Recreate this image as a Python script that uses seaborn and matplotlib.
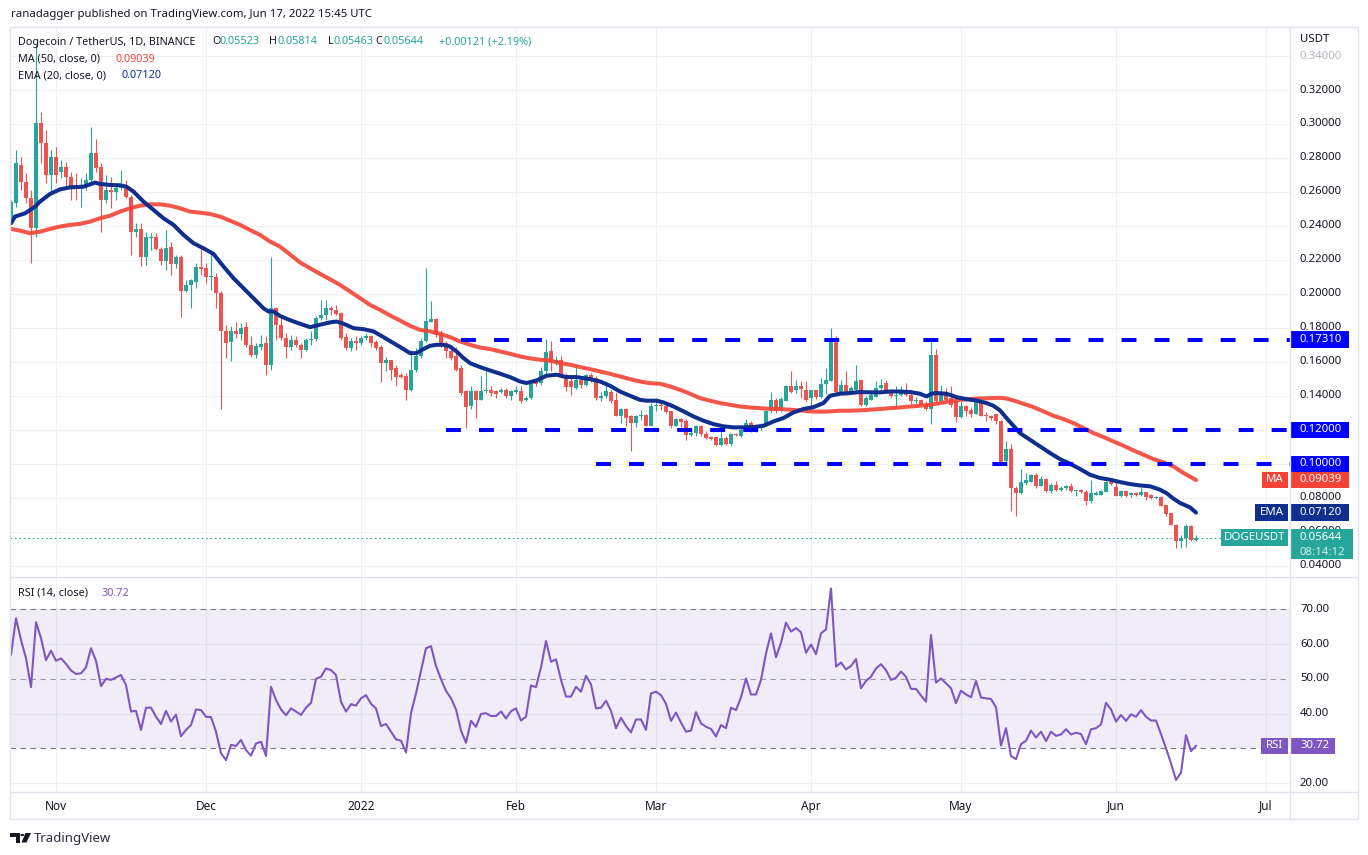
import numpy as np
import pandas as pd
import matplotlib
matplotlib.use("Agg")
import matplotlib.pyplot as plt
from matplotlib.patches import Rectangle, Polygon, Circle
from matplotlib.lines import Line2D
import seaborn as sns

# ---- values: DOGE/USDT daily, Oct 23 2021 (day 0) -> Jun 17 2022 (day 237) ----
opens = [
    0.2455, 0.2533, 0.2759, 0.2661, 0.2562, 0.2386, 0.3004, 0.2886, 0.2700, 0.2808,
    0.2719, 0.2749, 0.2690, 0.2641, 0.2621, 0.2631, 0.2670, 0.2827, 0.2749, 0.2553,
    0.2611, 0.2602, 0.2621, 0.2641, 0.2572, 0.2366, 0.2382, 0.2215, 0.2327, 0.2333,
    0.2262, 0.2196, 0.2274, 0.2174, 0.2215, 0.2019, 0.2053, 0.2072, 0.2157, 0.2151,
    0.2098, 0.2098, 0.2004, 0.1784, 0.1714, 0.1782, 0.1764, 0.1804, 0.1700, 0.1641,
    0.1690, 0.1710, 0.1582, 0.1915, 0.1817, 0.1739, 0.1690, 0.1729, 0.1700, 0.1671,
    0.1729, 0.1736, 0.1857, 0.1877, 0.1916, 0.1906, 0.1886, 0.1745, 0.1681, 0.1720,
    0.1710, 0.1739, 0.1753, 0.1714, 0.1690, 0.1592, 0.1608, 0.1563, 0.1524, 0.1514,
    0.1432, 0.1549, 0.1632, 0.1720, 0.1837, 0.1851, 0.1769, 0.1710, 0.1661, 0.1632,
    0.1563, 0.1426, 0.1337, 0.1426, 0.1377, 0.1426, 0.1435, 0.1426, 0.1420, 0.1435,
    0.1396, 0.1420, 0.1426, 0.1373, 0.1386, 0.1488, 0.1475, 0.1543, 0.1661, 0.1592,
    0.1612, 0.1524, 0.1484, 0.1445, 0.1490, 0.1465, 0.1524, 0.1504, 0.1386, 0.1396,
    0.1420, 0.1376, 0.1282, 0.1322, 0.1278, 0.1239, 0.1282, 0.1288, 0.1223, 0.1337,
    0.1345, 0.1337, 0.1308, 0.1223, 0.1263, 0.1253, 0.1171, 0.1180, 0.1223, 0.1174,
    0.1155, 0.1157, 0.1112, 0.1151, 0.1118, 0.1176, 0.1165, 0.1196, 0.1239, 0.1196,
    0.1210, 0.1226, 0.1308, 0.1376, 0.1308, 0.1371, 0.1455, 0.1435, 0.1455, 0.1435,
    0.1386, 0.1431, 0.1392, 0.1471, 0.1484, 0.1739, 0.1425, 0.1465, 0.1416, 0.1431,
    0.1494, 0.1347, 0.1376, 0.1392, 0.1445, 0.1474, 0.1435, 0.1396, 0.1406, 0.1431,
    0.1406, 0.1367, 0.1376, 0.1347, 0.1322, 0.1641, 0.1367, 0.1406, 0.1384, 0.1367,
    0.1274, 0.1337, 0.1314, 0.1294, 0.1367, 0.1288, 0.1282, 0.1294, 0.1249, 0.1014,
    0.1086, 0.0857, 0.0827, 0.0886, 0.0890, 0.0935, 0.0871, 0.0910, 0.0837, 0.0876,
    0.0843, 0.0857, 0.0867, 0.0837, 0.0843, 0.0831, 0.0778, 0.0818, 0.0818, 0.0831,
    0.0890, 0.0863, 0.0812, 0.0837, 0.0814, 0.0827, 0.0818, 0.0831, 0.0818, 0.0798,
    0.0804, 0.0759, 0.0710, 0.0641, 0.0543, 0.0563, 0.0635, 0.05523]
highs = [
    0.2553, 0.2847, 0.2808, 0.2710, 0.2611, 0.3470, 0.3072, 0.2964, 0.2847, 0.2866,
    0.2788, 0.2778, 0.2719, 0.2710, 0.2680, 0.2710, 0.2980, 0.2910, 0.2768, 0.2700,
    0.2690, 0.2651, 0.2729, 0.2670, 0.2582, 0.2415, 0.2415, 0.2366, 0.2361, 0.2361,
    0.2278, 0.2376, 0.2308, 0.2229, 0.2229, 0.2082, 0.2086, 0.2180, 0.2278, 0.2180,
    0.2239, 0.2121, 0.2014, 0.1817, 0.1808, 0.1837, 0.1827, 0.1837, 0.1749, 0.1710,
    0.1759, 0.1749, 0.2215, 0.1925, 0.1866, 0.1768, 0.1759, 0.1749, 0.1710, 0.1739,
    0.1779, 0.1867, 0.1965, 0.1965, 0.1930, 0.1936, 0.1896, 0.1769, 0.1739, 0.1749,
    0.1749, 0.1769, 0.1759, 0.1730, 0.1700, 0.1628, 0.1612, 0.1583, 0.1533, 0.1533,
    0.1671, 0.1681, 0.1739, 0.2151, 0.1955, 0.1857, 0.1789, 0.1720, 0.1690, 0.1690,
    0.1583, 0.1436, 0.1455, 0.1436, 0.1514, 0.1543, 0.1459, 0.1436, 0.1445, 0.1445,
    0.1436, 0.1455, 0.1455, 0.1396, 0.1490, 0.1500, 0.1569, 0.1734, 0.1720, 0.1636,
    0.1636, 0.1533, 0.1514, 0.1588, 0.1500, 0.1530, 0.1533, 0.1514, 0.1425, 0.1484,
    0.1435, 0.1425, 0.1327, 0.1327, 0.1288, 0.1288, 0.1314, 0.1290, 0.1357, 0.1386,
    0.1376, 0.1357, 0.1308, 0.1269, 0.1269, 0.1263, 0.1190, 0.1229, 0.1229, 0.1190,
    0.1163, 0.1157, 0.1220, 0.1161, 0.1180, 0.1182, 0.1210, 0.1263, 0.1249, 0.1220,
    0.1239, 0.1318, 0.1425, 0.1386, 0.1392, 0.1465, 0.1543, 0.1494, 0.1484, 0.1484,
    0.1435, 0.1431, 0.1504, 0.1563, 0.1798, 0.1749, 0.1490, 0.1543, 0.1455, 0.1582,
    0.1494, 0.1396, 0.1435, 0.1484, 0.1498, 0.1490, 0.1441, 0.1455, 0.1455, 0.1474,
    0.1435, 0.1392, 0.1380, 0.1367, 0.1714, 0.1674, 0.1465, 0.1445, 0.1459, 0.1380,
    0.1367, 0.1347, 0.1333, 0.1376, 0.1376, 0.1302, 0.1288, 0.1294, 0.1259, 0.1131,
    0.1118, 0.0867, 0.0969, 0.0945, 0.0941, 0.0945, 0.0925, 0.0916, 0.0886, 0.0896,
    0.0867, 0.0876, 0.0886, 0.0847, 0.0851, 0.0843, 0.0902, 0.0837, 0.0847, 0.0896,
    0.0906, 0.0902, 0.0843, 0.0843, 0.0831, 0.0835, 0.0857, 0.0835, 0.0822, 0.0812,
    0.0808, 0.0759, 0.0712, 0.0647, 0.0582, 0.0647, 0.0641, 0.05814]
lows = [
    0.2440, 0.2513, 0.2611, 0.2533, 0.2180, 0.2337, 0.2768, 0.2651, 0.2592, 0.2651,
    0.2680, 0.2631, 0.2553, 0.2553, 0.2513, 0.2611, 0.2651, 0.2719, 0.2366, 0.2533,
    0.2504, 0.2553, 0.2611, 0.2562, 0.2229, 0.2337, 0.2161, 0.2170, 0.2259, 0.2259,
    0.2170, 0.2141, 0.2112, 0.2150, 0.1866, 0.2013, 0.1915, 0.2033, 0.2112, 0.2063,
    0.2023, 0.1915, 0.1321, 0.1621, 0.1602, 0.1739, 0.1729, 0.1690, 0.1631, 0.1621,
    0.1670, 0.1523, 0.1553, 0.1729, 0.1729, 0.1621, 0.1670, 0.1690, 0.1622, 0.1661,
    0.1700, 0.1720, 0.1847, 0.1847, 0.1877, 0.1877, 0.1730, 0.1671, 0.1661, 0.1671,
    0.1700, 0.1726, 0.1686, 0.1671, 0.1479, 0.1543, 0.1494, 0.1459, 0.1504, 0.1377,
    0.1426, 0.1537, 0.1622, 0.1714, 0.1832, 0.1745, 0.1690, 0.1622, 0.1612, 0.1543,
    0.1406, 0.1210, 0.1322, 0.1269, 0.1373, 0.1416, 0.1396, 0.1387, 0.1416, 0.1387,
    0.1373, 0.1410, 0.1357, 0.1367, 0.1381, 0.1455, 0.1465, 0.1514, 0.1543, 0.1583,
    0.1504, 0.1426, 0.1406, 0.1439, 0.1445, 0.1455, 0.1480, 0.1377, 0.1367, 0.1386,
    0.1357, 0.1278, 0.1239, 0.1220, 0.1072, 0.1216, 0.1259, 0.1220, 0.1220, 0.1308,
    0.1314, 0.1298, 0.1210, 0.1220, 0.1216, 0.1137, 0.1165, 0.1165, 0.1161, 0.1145,
    0.1141, 0.1106, 0.1106, 0.1110, 0.1110, 0.1161, 0.1157, 0.1190, 0.1184, 0.1184,
    0.1200, 0.1220, 0.1298, 0.1298, 0.1302, 0.1371, 0.1416, 0.1416, 0.1386, 0.1367,
    0.1327, 0.1380, 0.1386, 0.1412, 0.1484, 0.1416, 0.1412, 0.1406, 0.1410, 0.1425,
    0.1337, 0.1337, 0.1376, 0.1392, 0.1435, 0.1420, 0.1392, 0.1333, 0.1396, 0.1400,
    0.1353, 0.1357, 0.1343, 0.1318, 0.1235, 0.1357, 0.1357, 0.1367, 0.1333, 0.1243,
    0.1269, 0.1278, 0.1274, 0.1290, 0.1278, 0.1249, 0.1259, 0.1235, 0.1000, 0.1004,
    0.0720, 0.0694, 0.0823, 0.0876, 0.0890, 0.0855, 0.0867, 0.0831, 0.0827, 0.0837,
    0.0839, 0.0845, 0.0831, 0.0808, 0.0825, 0.0759, 0.0769, 0.0814, 0.0816, 0.0831,
    0.0872, 0.0808, 0.0806, 0.0802, 0.0804, 0.0810, 0.0810, 0.0788, 0.0792, 0.0794,
    0.0749, 0.0690, 0.0637, 0.0504, 0.0504, 0.0510, 0.0545, 0.05463]
closes = [
    0.2543, 0.2768, 0.2661, 0.2562, 0.2386, 0.3004, 0.2886, 0.2700, 0.2808, 0.2700,
    0.2749, 0.2690, 0.2631, 0.2621, 0.2631, 0.2670, 0.2827, 0.2739, 0.2553, 0.2611,
    0.2602, 0.2621, 0.2641, 0.2572, 0.2366, 0.2382, 0.2215, 0.2333, 0.2333, 0.2262,
    0.2196, 0.2268, 0.2174, 0.2215, 0.2019, 0.2053, 0.2082, 0.2157, 0.2147, 0.2098,
    0.2102, 0.2004, 0.1784, 0.1710, 0.1784, 0.1764, 0.1798, 0.1700, 0.1641, 0.1694,
    0.1706, 0.1582, 0.1915, 0.1817, 0.1739, 0.1690, 0.1729, 0.1700, 0.1671, 0.1729,
    0.1736, 0.1857, 0.1877, 0.1916, 0.1906, 0.1882, 0.1739, 0.1681, 0.1720, 0.1710,
    0.1739, 0.1753, 0.1710, 0.1681, 0.1592, 0.1608, 0.1549, 0.1510, 0.1508, 0.1432,
    0.1549, 0.1632, 0.1720, 0.1843, 0.1851, 0.1759, 0.1700, 0.1661, 0.1622, 0.1553,
    0.1416, 0.1334, 0.1426, 0.1377, 0.1426, 0.1435, 0.1416, 0.1412, 0.1435, 0.1396,
    0.1426, 0.1432, 0.1367, 0.1386, 0.1484, 0.1469, 0.1543, 0.1655, 0.1592, 0.1608,
    0.1514, 0.1451, 0.1449, 0.1490, 0.1465, 0.1524, 0.1490, 0.1386, 0.1396, 0.1430,
    0.1367, 0.1282, 0.1322, 0.1269, 0.1239, 0.1282, 0.1286, 0.1223, 0.1341, 0.1347,
    0.1337, 0.1302, 0.1223, 0.1263, 0.1245, 0.1171, 0.1180, 0.1223, 0.1174, 0.1151,
    0.1145, 0.1112, 0.1151, 0.1118, 0.1174, 0.1170, 0.1196, 0.1239, 0.1190, 0.1210,
    0.1229, 0.1308, 0.1376, 0.1308, 0.1380, 0.1459, 0.1425, 0.1455, 0.1441, 0.1376,
    0.1431, 0.1392, 0.1471, 0.1494, 0.1739, 0.1425, 0.1465, 0.1412, 0.1445, 0.1488,
    0.1347, 0.1386, 0.1406, 0.1445, 0.1465, 0.1431, 0.1398, 0.1406, 0.1431, 0.1406,
    0.1367, 0.1376, 0.1347, 0.1322, 0.1641, 0.1367, 0.1406, 0.1376, 0.1347, 0.1274,
    0.1337, 0.1308, 0.1294, 0.1367, 0.1282, 0.1278, 0.1272, 0.1249, 0.1008, 0.1086,
    0.0857, 0.0827, 0.0890, 0.0902, 0.0935, 0.0871, 0.0910, 0.0837, 0.0876, 0.0843,
    0.0857, 0.0867, 0.0837, 0.0843, 0.0831, 0.0778, 0.0827, 0.0827, 0.0837, 0.0890,
    0.0882, 0.0812, 0.0837, 0.0808, 0.0827, 0.0814, 0.0831, 0.0804, 0.0798, 0.0804,
    0.0753, 0.0706, 0.0641, 0.0543, 0.0563, 0.0635, 0.05523, 0.05644]

rsi_vals = [
    56.9, 67.4, 61.2, 55.9, 47.6, 66.3, 61.7, 55.4, 58.1, 55.2,
    55.9, 54.3, 52.4, 51.4, 51.6, 53.3, 58.8, 55.2, 47.9, 50.0,
    49.7, 50.4, 51.1, 48.2, 40.6, 40.8, 35.3, 41.7, 41.7, 39.1,
    37.0, 40.8, 37.7, 39.7, 33.5, 35.3, 36.7, 41.2, 41.0, 39.1,
    39.0, 34.8, 28.6, 26.6, 31.0, 30.7, 32.4, 29.5, 27.9, 31.4,
    31.9, 27.8, 47.7, 43.9, 41.2, 39.5, 41.5, 40.6, 39.6, 41.7,
    43.1, 50.0, 50.6, 53.0, 52.5, 51.1, 43.4, 40.6, 42.7, 42.3,
    44.4, 45.3, 42.8, 41.5, 36.4, 37.0, 34.8, 32.6, 32.2, 28.8,
    40.1, 45.8, 52.3, 58.8, 59.4, 53.7, 49.9, 46.5, 44.4, 41.2,
    35.1, 31.6, 37.9, 36.2, 39.9, 40.1, 39.3, 39.3, 40.6, 38.6,
    40.7, 41.5, 38.0, 39.1, 48.1, 47.6, 53.3, 60.9, 54.9, 55.6,
    49.7, 44.9, 44.9, 47.7, 46.3, 50.9, 48.4, 41.5, 41.7, 43.7,
    40.8, 35.8, 38.8, 36.4, 34.6, 38.3, 38.3, 35.3, 45.8, 46.3,
    45.3, 42.8, 37.9, 40.3, 37.4, 34.8, 35.1, 40.4, 37.2, 36.2,
    35.6, 33.4, 36.7, 35.8, 41.7, 41.0, 44.7, 50.1, 45.5, 45.5,
    49.7, 57.3, 63.1, 56.2, 60.4, 66.2, 63.6, 64.6, 63.4, 57.5,
    59.9, 57.1, 63.1, 64.2, 76.0, 53.5, 54.7, 52.7, 53.7, 55.7,
    47.3, 49.4, 50.6, 53.0, 54.2, 52.5, 49.7, 50.3, 52.1, 50.6,
    47.1, 47.1, 45.2, 43.4, 62.6, 48.9, 50.1, 48.7, 47.3, 43.0,
    46.6, 45.5, 44.7, 49.4, 44.6, 44.4, 44.2, 41.8, 30.8, 35.8,
    27.8, 26.9, 31.2, 32.2, 35.1, 33.1, 34.8, 32.1, 34.8, 33.6,
    34.0, 35.5, 34.0, 34.5, 34.1, 31.2, 35.5, 35.8, 36.9, 43.1,
    41.2, 37.7, 39.6, 37.9, 39.8, 39.1, 41.0, 39.1, 38.0, 38.0,
    34.1, 30.0, 25.7, 20.9, 23.0, 33.8, 29.2, 30.72]

# MA(50) and EMA(20) (day position, value)
ma_days = [0, 1.8, 3.8, 5.8, 7.8, 9.8, 11.8, 13.8, 15.8, 17.8, 19.8, 21.8, 23.8, 25.8, 27.8,
           29.8, 31.8, 33.8, 35.8, 37.8, 39.8, 41.8, 43.8, 45.8, 47.8, 49.8, 51.8, 53.8, 55.8,
           57.8, 59.8, 61.8, 63.8, 65.8, 67.8, 69.8, 71.8, 73.8, 75.8, 77.8, 79.8, 81.8, 83.8,
           85.8, 87.8, 89.8, 91.8, 93.8, 95.8, 97.8, 99.8, 101.8, 103.8, 105.8, 107.8, 109.8,
           111.8, 113.8, 115.8, 117.8, 119.8, 121.8, 123.8, 125.8, 127.8, 129.8, 131.8, 133.8,
           135.8, 137.8, 139.8, 141.8, 143.8, 145.8, 147.8, 149.8, 151.8, 153.8, 155.8, 157.8,
           159.8, 161.8, 163.8, 165.8, 167.8, 169.8, 171.8, 173.8, 175.8, 177.8, 179.8, 181.8,
           183.8, 185.8, 187.8, 189.8, 191.8, 193.8, 195.8, 197.8, 199.1, 200.5, 202.5, 204.5,
           206.5, 208.5, 210.5, 212.5, 214.5, 216.5, 218.5, 220.5, 222.5, 224.5, 226.5, 228.5,
           230.5, 232.5, 234.5, 237]
ma_vals = [0.2382, 0.2372, 0.2357, 0.2366, 0.2382, 0.2396, 0.2406, 0.2412, 0.2425, 0.2445,
           0.2460, 0.2484, 0.2504, 0.2519, 0.2527, 0.2527, 0.2519, 0.2504, 0.2484, 0.2478,
           0.2470, 0.2455, 0.2431, 0.2406, 0.2376, 0.2347, 0.2308, 0.2278, 0.2232, 0.2185,
           0.2151, 0.2118, 0.2086, 0.2053, 0.2014, 0.1975, 0.1935, 0.1906, 0.1873, 0.1843,
           0.1812, 0.1788, 0.1779, 0.1765, 0.1745, 0.1720, 0.1700, 0.1684, 0.1675, 0.1661,
           0.1647, 0.1632, 0.1620, 0.1612, 0.1608, 0.1592, 0.1583, 0.1569, 0.1557, 0.1543,
           0.1529, 0.1514, 0.1498, 0.1484, 0.1474, 0.1471, 0.1455, 0.1435, 0.1412, 0.1386,
           0.1371, 0.1357, 0.1347, 0.1337, 0.1331, 0.1327, 0.1323, 0.1322, 0.1318, 0.1314,
           0.1308, 0.1306, 0.1308, 0.1312, 0.1312, 0.1314, 0.1318, 0.1322, 0.1327, 0.1331,
           0.1337, 0.1341, 0.1347, 0.1357, 0.1367, 0.1376, 0.1380, 0.1384, 0.1386, 0.1388,
           0.1384, 0.1372, 0.1353, 0.1333, 0.1308, 0.1282, 0.1263, 0.1239, 0.1210, 0.1180,
           0.1157, 0.1131, 0.1106, 0.1078, 0.1053, 0.1027, 0.1008, 0.0984, 0.0945, 0.0904]
ema_days = [0, 0.8, 2.8, 4.8, 5.8, 7.8, 9.8, 11.8, 14.5, 16.8, 17.8, 19.8, 21.8, 23.1, 24.5,
            26.5, 28.5, 30.5, 32.5, 34.5, 36.5, 38.5, 40.5, 42.5, 44.5, 46.5, 48.5, 50.5, 51.5,
            52.5, 53.8, 55.8, 57.8, 59.8, 61.8, 63.8, 65.1, 66.5, 68.5, 70.5, 72.5, 74.5, 76.5,
            78.5, 79.8, 81.1, 82.5, 83.8, 85.1, 86.5, 87.8, 89.1, 90.5, 91.8, 93.8, 95.8, 97.8,
            99.8, 101.8, 103.1, 105.1, 107.1, 109.1, 111.1, 113.1, 115.8, 117.8, 119.8, 121.8,
            123.8, 125.8, 127.1, 129.1, 130.5, 132.5, 134.5, 136.5, 138.5, 140.5, 142.5, 144.5,
            146.5, 148.5, 150.5, 152.5, 154.5, 156.5, 158.5, 160.5, 162.5, 163.8, 165.8, 167.8,
            169.8, 171.8, 173.8, 175.8, 177.8, 179.8, 181.8, 183.1, 184.1, 185.1, 187.1, 189.1,
            191.1, 193.1, 195.1, 196.5, 197.8, 199.1, 200.5, 201.8, 203.8, 205.8, 207.8, 209.8,
            211.8, 213.8, 215.8, 217.8, 219.8, 221.8, 223.8, 225.8, 227.8, 229.8, 231.1, 232.5,
            233.8, 235.8, 237]
ema_vals = [0.2415, 0.2455, 0.2474, 0.2513, 0.2543, 0.2588, 0.2615, 0.2627, 0.2631, 0.2655,
            0.2647, 0.2641, 0.2639, 0.2631, 0.2602, 0.2543, 0.2494, 0.2445, 0.2406, 0.2347,
            0.2298, 0.2268, 0.2235, 0.2161, 0.2092, 0.2033, 0.1974, 0.1915, 0.1896, 0.1896,
            0.1870, 0.1845, 0.1824, 0.1804, 0.1818, 0.1832, 0.1837, 0.1824, 0.1798, 0.1792,
            0.1779, 0.1745, 0.1710, 0.1675, 0.1651, 0.1651, 0.1675, 0.1694, 0.1700, 0.1700,
            0.1690, 0.1661, 0.1622, 0.1592, 0.1569, 0.1549, 0.1530, 0.1510, 0.1484, 0.1475,
            0.1490, 0.1518, 0.1524, 0.1510, 0.1510, 0.1498, 0.1484, 0.1459, 0.1425, 0.1400,
            0.1376, 0.1371, 0.1371, 0.1361, 0.1337, 0.1308, 0.1278, 0.1253, 0.1233, 0.1220,
            0.1214, 0.1214, 0.1216, 0.1223, 0.1249, 0.1269, 0.1302, 0.1322, 0.1333, 0.1357,
            0.1400, 0.1412, 0.1416, 0.1422, 0.1420, 0.1420, 0.1425, 0.1425, 0.1422, 0.1412,
            0.1396, 0.1412, 0.1416, 0.1412, 0.1392, 0.1380, 0.1372, 0.1357, 0.1341, 0.1314,
            0.1269, 0.1223, 0.1180, 0.1141, 0.1102, 0.1063, 0.1027, 0.1000, 0.0969, 0.0935,
            0.0916, 0.0906, 0.0892, 0.0880, 0.0872, 0.0867, 0.0847, 0.0827, 0.0794, 0.0769,
            0.0743, 0.0712]

levels = [0.1731, 0.12, 0.10]
level_from = [90, 87, 117]
price_ticks = [0.04, 0.06, 0.08, 0.10, 0.12, 0.14, 0.16, 0.18, 0.20, 0.22, 0.24, 0.26,
               0.28, 0.30, 0.32, 0.34]
rsi_ticks = [70, 60, 50, 40, 30, 20]
month_days = [9, 39, 70, 101, 129, 160, 190, 221, 251]
month_labels = ['Nov', 'Dec', '2022', 'Feb', 'Mar', 'Apr', 'May', 'Jun', 'Jul']

# ---- colours ----
UP, DOWN = '#26A69A', '#EF5350'
MA_C, EMA_C, RSI_C = '#F44336', '#0F2F8F', '#7E57C2'
LEVEL_C = '#0000FF'
TXT, GRID, FRAME = '#131722', '#EEF0F4', '#E0E3EB'

sns.set_theme(style='white')
plt.rcParams['font.family'] = ['Noto Sans', 'DejaVu Sans']

W, H = 1368, 855
L, R = 10, 1290
TOP, SEP, BOT = 27, 577, 792
fig = plt.figure(figsize=(W / 100, H / 100), dpi=100)
fig.patch.set_facecolor('white')


def frac(x0, y0, x1, y1):
    return [x0 / W, 1 - y1 / H, (x1 - x0) / W, (y1 - y0) / H]


ax = fig.add_axes(frac(L, TOP, R, SEP))
ar = fig.add_axes(frac(L, SEP, R, BOT))
for a in (ax, ar):
    a.set_axis_off()
    a.set_xlim(-0.2, 255.8)
ax.set_ylim(0.0333, 0.3571)
ar.set_ylim(17.44, 79.3)
PPU_MAIN = (SEP - TOP) / (0.3571 - 0.0333)
PPU_RSI = (BOT - SEP) / (79.3 - 17.44)


def axx(px):
    return (px - L) / (R - L)


# grid
for v in price_ticks:
    ax.axhline(v, color=GRID, lw=0.8, zorder=0)
for v in [60, 40, 20]:
    ar.axhline(v, color=GRID, lw=0.8, zorder=0)
for d in month_days:
    ax.axvline(d, color=GRID, lw=0.8, zorder=0)
    ar.axvline(d, color=GRID, lw=0.8, zorder=0)

# candles
df = pd.DataFrame({'day': np.arange(len(closes)), 'open': opens, 'high': highs,
                   'low': lows, 'close': closes})
df['color'] = np.where(df['close'] >= df['open'], UP, DOWN)
ax.vlines(df['day'], df['low'], df['high'], colors=df['color'], lw=0.8, zorder=3)
body = np.maximum((df['close'] - df['open']).abs(), 0.0006)
ax.bar(df['day'], body, bottom=df[['open', 'close']].min(axis=1), width=0.62,
       color=df['color'], linewidth=0, zorder=4)

# moving averages
sns.lineplot(x=ma_days, y=ma_vals, ax=ax, color=MA_C, lw=2.9, alpha=0.9, zorder=5,
             estimator=None, sort=False)
sns.lineplot(x=ema_days, y=ema_vals, ax=ax, color=EMA_C, lw=2.9, zorder=6,
             estimator=None, sort=False)

# horizontal levels
for lv, start in zip(levels, level_from):
    ax.hlines(lv, start, 255.8, color=LEVEL_C, lw=2.9, linestyles=(0, (3.7, 4.5)), zorder=7)

# last price dotted line
ax.axhline(closes[-1], color=UP, lw=0.8, ls=(0, (1.4, 2.6)), zorder=2)

# RSI panel
ar.axhspan(30, 70, color=RSI_C, alpha=0.1, lw=0, zorder=0)
for v in [70, 50, 30]:
    ar.axhline(v, color='#787B86', lw=0.8, ls=(0, (5, 4)), alpha=1 if v != 50 else 0.7, zorder=1)
rsi_df = pd.DataFrame({'day': np.arange(len(rsi_vals)), 'rsi': rsi_vals})
sns.lineplot(data=rsi_df, x='day', y='rsi', ax=ar, color=RSI_C, lw=1.5, zorder=3)

# price / rsi axis labels (0.06000 sits mostly under the last-price tag, as in the original)
for v in price_ticks:
    ax.text(axx(1300), v, f'{v:.5f}', transform=ax.get_yaxis_transform(), va='center',
            ha='left', fontsize=8.2, color='#B2B5BE' if v == 0.34 else TXT, clip_on=False,
            zorder=3)
for v in rsi_ticks:
    ar.text(axx(1300), v, f'{v:.2f}', transform=ar.get_yaxis_transform(), va='center',
            ha='left', fontsize=8.2, color=TXT, clip_on=False, zorder=3)


def tag(a, v, x0, x1, up, down, color, ppu, text, tx=None, ha='left', ty=0.0,
        tcolor='white', size=8.2):
    a.add_patch(Rectangle((axx(x0), v - down / ppu), axx(x1) - axx(x0), (up + down) / ppu,
                          transform=a.get_yaxis_transform(), facecolor=color,
                          edgecolor='none', clip_on=False, zorder=20))
    if tx is None:
        tx = (x0 + x1) / 2
    a.text(axx(tx), v + ty / ppu, text, transform=a.get_yaxis_transform(), ha=ha,
           va='center', color=tcolor, fontsize=size, fontweight='bold', clip_on=False,
           zorder=21)


for lv in levels:
    tag(ax, lv, 1290, 1349, 8.2, 8.2, LEVEL_C, PPU_MAIN, f'{lv:.5f}', tx=1300)
tag(ax, ma_vals[-1] + 0.00002, 1290, 1349, 8.2, 8.2, MA_C, PPU_MAIN, '0.09039', tx=1300)
tag(ax, ma_vals[-1] + 0.00002, 1262, 1288, 8.2, 8.2, MA_C, PPU_MAIN, 'MA', ha='center')
tag(ax, ema_vals[-1], 1290, 1349, 8.2, 8.2, EMA_C, PPU_MAIN, '0.07120', tx=1300)
tag(ax, ema_vals[-1], 1255, 1288, 8.2, 8.2, EMA_C, PPU_MAIN, 'EMA', ha='center')
tag(ax, closes[-1], 1221, 1288, 8.2, 8.2, UP, PPU_MAIN, 'DOGEUSDT', ha='center')
tag(ax, closes[-1], 1290, 1353, 8.2, 21.8, UP, PPU_MAIN, '0.05644', tx=1300)
ax.text(axx(1300), closes[-1] - 14.5 / PPU_MAIN, '08:14:12', transform=ax.get_yaxis_transform(),
        ha='left', va='center', color='#D4EFEC', fontsize=8.2, fontweight='bold',
        clip_on=False, zorder=22)
tag(ar, rsi_vals[-1], 1290, 1335, 8.2, 8.2, RSI_C, PPU_RSI, '30.72', tx=1300)
tag(ar, rsi_vals[-1], 1261, 1288, 8.2, 8.2, RSI_C, PPU_RSI, 'RSI', ha='center')

# date labels
for d, lab in zip(month_days, month_labels):
    ar.text(d, -(806 - BOT) / (BOT - SEP), lab, transform=ar.get_xaxis_transform(),
            ha='center', va='center', fontsize=8.5, color=TXT,
            fontweight='bold' if lab == '2022' else 'normal', clip_on=False)


def ftext(x, y, s, **kw):
    kw.setdefault('fontsize', 7.8)
    kw.setdefault('color', TXT)
    fig.text(x / W, 1 - y / H, s, va='center', ha='left', **kw)


# header + legend
ftext(11, 15, 'ranadagger published on TradingView.com, Jun 17, 2022 15:45 UTC', fontsize=8.2)
ftext(18, 42, 'Dogecoin / TetherUS, 1D, BINANCE')
for x, letter, val in [(212, 'O', '0.05523'), (269, 'H', '0.05814'),
                       (328, 'L', '0.05463'), (375, 'C', '0.05644')]:
    ftext(x, 42, letter)
    ftext(x + (6 if letter == 'L' else 8), 42, val, color=UP)
ftext(439, 42, '+0.00121 (+2.19%)', color=UP)
ftext(18, 59, 'MA (50, close, 0)')
ftext(116, 59, '0.09039', color=MA_C)
ftext(18, 76, 'EMA (20, close, 0)')
ftext(122, 76, '0.07120', color=EMA_C)
ftext(18, 593, 'RSI (14, close)')
ftext(102, 593, '30.72', color=RSI_C)
ftext(1300, 40, 'USDT', fontsize=8.2)

# frame and separators
fig.add_artist(Rectangle((L / W, 1 - 819 / H), (1358 - L) / W, (819 - TOP) / H,
                         transform=fig.transFigure, fill=False, edgecolor=FRAME, lw=1))
for (x0, y0, x1, y1) in [(R, TOP, R, 819), (L, BOT, 1358, BOT), (L, SEP, 1358, SEP)]:
    fig.add_artist(Line2D([x0 / W, x1 / W], [1 - y0 / H, 1 - y1 / H],
                          transform=fig.transFigure, color=FRAME, lw=1))

# TradingView logo
def P(pts):
    return [(x / W, 1 - y / H) for x, y in pts]


fig.add_artist(Polygon(P([(10, 833), (19.5, 833), (19.5, 842.5), (15.5, 842.5),
                          (15.5, 837), (10, 837)]), closed=True, transform=fig.transFigure,
                       facecolor=TXT, edgecolor='none'))
fig.add_artist(Circle((22.3 / W, 1 - 835 / H), 1.9 / W, transform=fig.transFigure,
                      facecolor=TXT, edgecolor='none'))
fig.add_artist(Polygon(P([(25.5, 833), (31, 833), (26.5, 842.5), (21.5, 842.5)]), closed=True,
                       transform=fig.transFigure, facecolor=TXT, edgecolor='none'))
ftext(34, 838, 'TradingView', fontsize=9.5, color='#2A2E39')

fig.savefig('out.png', dpi=100, facecolor='white')
